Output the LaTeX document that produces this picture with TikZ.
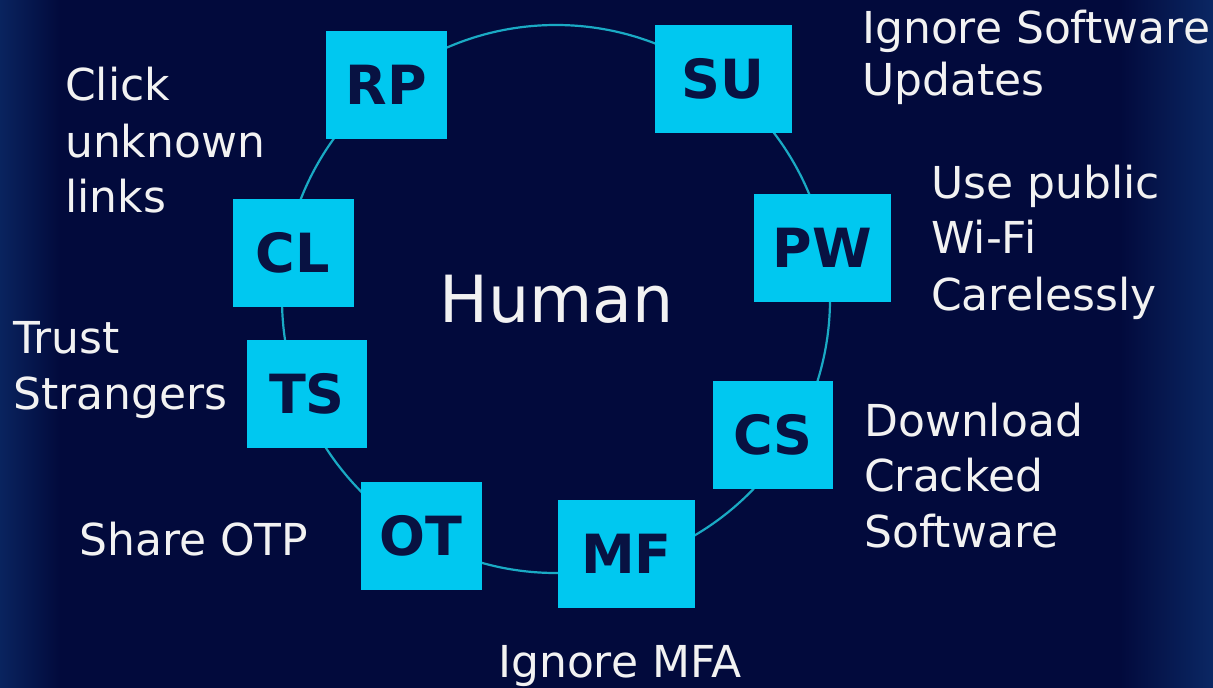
\documentclass[tikz,border=0pt]{standalone}
\usepackage{fontspec}
\setmainfont{DejaVu Sans}
\definecolor{bgnavy}{RGB}{2,10,60}
\definecolor{glow}{RGB}{12,44,106}
\definecolor{boxcyan}{RGB}{0,200,240}
\definecolor{ringteal}{RGB}{26,170,196}
\definecolor{inkdark}{RGB}{8,18,66}
\definecolor{txtwhite}{RGB}{242,242,242}
\tikzset{
  riskbox/.style={rectangle, fill=boxcyan, minimum width=121pt, minimum height=108pt,
    inner sep=0pt, text=inkdark, font=\fontsize{54}{54}\selectfont\bfseries},
  widebox/.style={riskbox, minimum width=137pt},
  lbl/.style={anchor=base west, inner sep=0pt, text=txtwhite, font=\fontsize{44}{44}\selectfont},
  ring/.style={draw=ringteal, line width=2.2pt}
}
\begin{document}
\begin{tikzpicture}[x=1pt,y=-1pt]
\useasboundingbox (0,0) rectangle (1213,688);
% background
\fill[bgnavy] (0,0) rectangle (1213,688);
\shade[left color=glow!75!bgnavy, right color=bgnavy] (0,0) rectangle (60,688);
\shade[left color=bgnavy, right color=glow!85!bgnavy] (1120,0) rectangle (1213,688);
% ring
\node[ring, circle, minimum size=548pt, inner sep=0pt] (ring) at (556,299) {};
% centre
\node[anchor=base, inner sep=0pt, text=txtwhite, font=\fontsize{65}{65}\selectfont] (human) at (556.5,322) {Human};
% boxes
\node[riskbox] (RP) at (386.5,85) {RP};
\node[widebox] (SU) at (723,79) {SU};
\node[widebox] (PW) at (822.5,248) {PW};
\node[riskbox, minimum width=120pt] (CS) at (773,434.5) {CS};
\node[widebox] (MF) at (626.5,553.5) {MF};
\node[riskbox] (OT) at (421,536) {OT};
\node[riskbox, minimum width=120pt] (TS) at (307,394) {TS};
\node[riskbox] (CL) at (293,253) {CL};
% labels
\node[lbl] (cl1) at (65,100) {Click};
\node[lbl] (cl2) at (65,157) {unknown};
\node[lbl] (cl3) at (65,212) {links};
\node[lbl] (su1) at (862,43) {Ignore Software};
\node[lbl] (su2) at (862,95) {Updates};
\node[lbl] (pw1) at (931,198) {Use public};
\node[lbl] (pw2) at (931,253) {Wi-Fi};
\node[lbl] (pw3) at (931,310) {Carelessly};
\node[lbl] (ts1) at (13,353) {Trust};
\node[lbl] (ts2) at (13,409) {Strangers};
\node[lbl] (ot1) at (79,555) {Share OTP};
\node[lbl] (cs1) at (864,436) {Download};
\node[lbl] (cs2) at (864,491) {Cracked};
\node[lbl] (cs3) at (864,547) {Software};
\node[lbl] (mf1) at (498,677) {Ignore MFA};
\end{tikzpicture}
\end{document}
